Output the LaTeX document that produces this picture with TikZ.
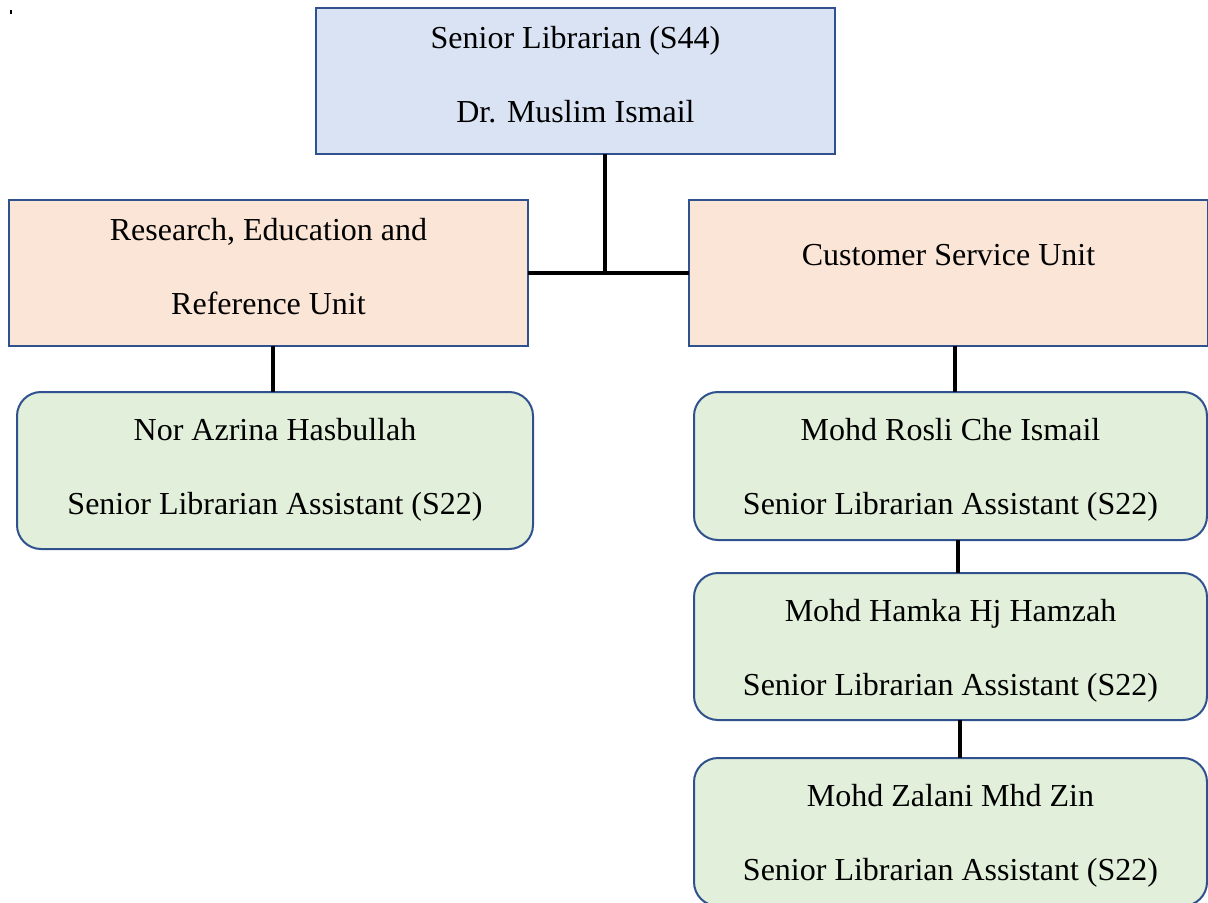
\documentclass[tikz,border=0pt]{standalone}
\usepackage{fontspec}
\setmainfont{Liberation Serif}
\usetikzlibrary{calc}
\definecolor{edgeblue}{RGB}{47,82,143}
\definecolor{headblue}{RGB}{218,227,243}
\definecolor{unitpeach}{RGB}{251,229,214}
\definecolor{staffgreen}{RGB}{226,239,218}
% text block whose first baseline sits #1 above the node centre
\newcommand\boxtext[3]{\raisebox{#1}[0pt][0pt]{\begin{tabular}[t]{@{}c@{}}#2\\#3\end{tabular}}}
\begin{document}
\begin{tikzpicture}[x=0.5pt,y=-0.5pt,
  box/.style={draw=edgeblue, line width=1pt, inner sep=0pt, outer sep=0pt,
    text=black, font=\fontsize{16}{37}\selectfont},
  head/.style={box, fill=headblue, minimum width=259.5pt, minimum height=73pt},
  unit/.style={box, fill=unitpeach, minimum width=259.5pt, minimum height=73pt},
  staff/.style={box, fill=staffgreen, rounded corners=12pt},
  link/.style={line width=1.6pt, black}]
\useasboundingbox (0,0) rectangle (1208,903);
\clip (0,0) rectangle (1208,903);
\fill[white] (0,0) rectangle (1208,903);
\fill[black] (10,10) rectangle (12,14);

% head of section
\node[head] (head) at (575.5,81) {\boxtext{16pt}{Senior Librarian (S44)}{Dr. Muslim Ismail}};

% units
\node[unit] (ref) at (268.5,273) {\boxtext{16.1pt}{Research, Education and}{Reference Unit}};
\node[unit] (csu) at (948.5,273) {\raisebox{3.5pt}[0pt][0pt]{Customer Service Unit}};

% staff
\node[staff, minimum width=258pt, minimum height=78.5pt] (azrina) at (275,470.5)
  {\boxtext{15.25pt}{Nor Azrina Hasbullah}{Senior Librarian Assistant (S22)}};
\node[staff, minimum width=256.5pt, minimum height=74pt] (rosli) at (950.5,466)
  {\boxtext{12.7pt}{Mohd Rosli Che Ismail}{Senior Librarian Assistant (S22)}};
\node[staff, minimum width=256.5pt, minimum height=73.5pt] (hamka) at (950.5,646.5)
  {\boxtext{12.75pt}{Mohd Hamka Hj Hamzah}{Senior Librarian Assistant (S22)}};
\node[staff, minimum width=256.5pt, minimum height=74pt] (zalani) at (950.5,832)
  {\boxtext{13pt}{Mohd Zalani Mhd Zin}{Senior Librarian Assistant (S22)}};

% connectors
\draw[link] ($(head.south)+(29.5,0)$) coordinate (t) -- (t |- ref.east);
\draw[link] (ref.east) -- (csu.west);
\draw[link] ($(ref.south)+(4.5,0)$) coordinate (a) -- (a |- azrina.north);
\draw[link] ($(csu.south)+(6.5,0)$) coordinate (b) -- (b |- rosli.north);
\draw[link] ($(rosli.south)+(7.5,0)$) coordinate (c) -- (c |- hamka.north);
\draw[link] ($(hamka.south)+(9.5,0)$) coordinate (d) -- (d |- zalani.north);
\end{tikzpicture}
\end{document}
